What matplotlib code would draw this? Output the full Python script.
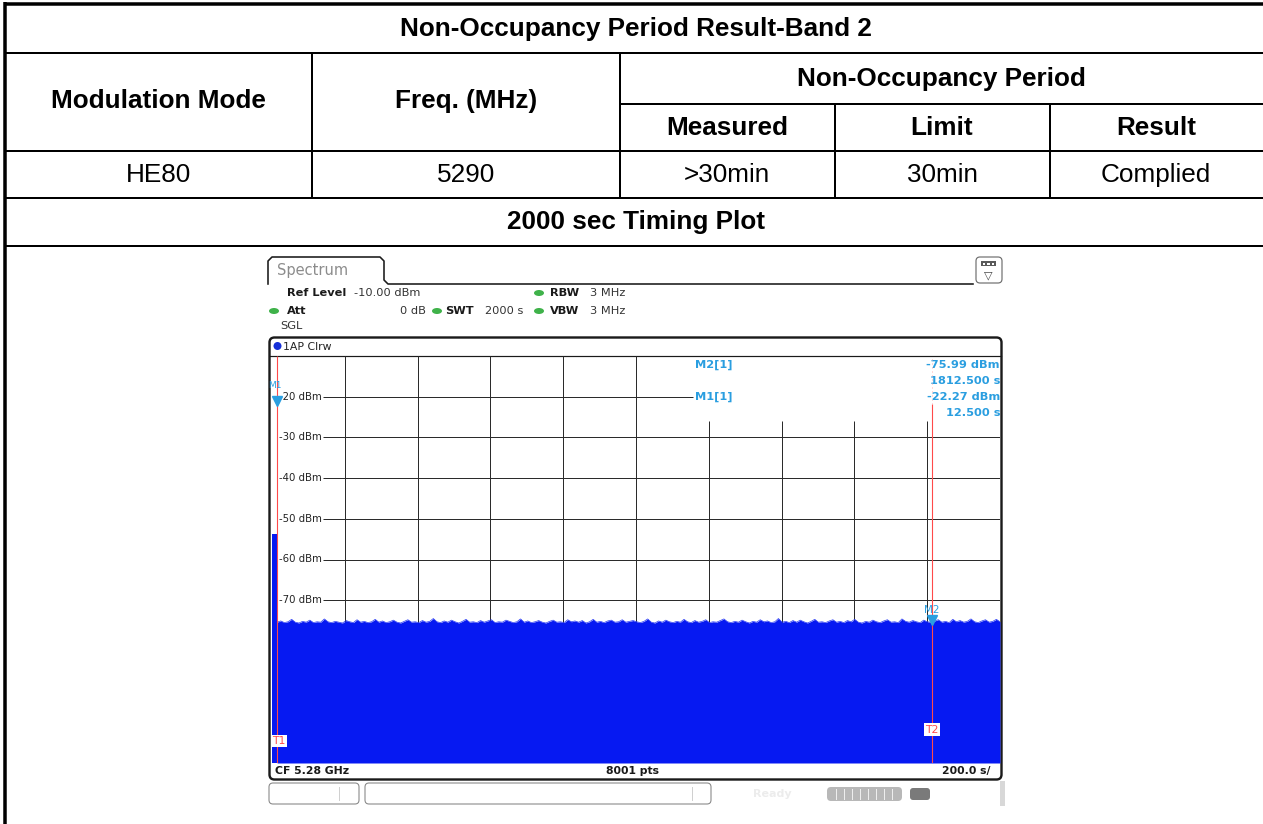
import numpy as np
import matplotlib
matplotlib.use('Agg')
import matplotlib.pyplot as plt
from matplotlib.patches import Rectangle, FancyBboxPatch, Ellipse, Circle
import matplotlib.transforms as mtransforms

# ---- table text
title = 'Non-Occupancy Period Result-Band 2'
hdr_mode = 'Modulation Mode'
hdr_freq = 'Freq. (MHz)'
hdr_nop = 'Non-Occupancy Period'
sub_hdrs = ['Measured', 'Limit', 'Result']
row_vals = ['HE80', '5290', '>30min', '30min', 'Complied']
plot_title = '2000 sec Timing Plot'

# ---- analyzer readout
sweep_time = 2000            # s
ref_level = -10              # dBm
bottom_level = -110          # dBm
y_ticks = [-20, -30, -40, -50, -60, -70]
m1_time, m1_level = 12.5, -22.27
m2_time, m2_level = 1812.5, -75.99
burst_end = 14               # s, first bins with the radar burst
burst_level = -53.7          # dBm
# top edge of the noise floor read across the sweep (dBm)
noise_top = [
    -75.4, -75.1, -75.5, -75.3, -74.7, -75.4, -75.6, -75.2, -75.4, -74.9,
    -75.5, -75.3, -75.4, -74.6, -75.3, -75.5, -75.2, -75.4, -75.6, -75.0,
    -75.3, -75.5, -74.8, -75.4, -75.2, -75.5, -75.3, -74.7, -75.4, -75.1,
    -75.5, -75.3, -74.9, -75.4, -75.6, -75.2, -74.8, -75.4, -75.3, -75.5,
    -75.0, -75.4, -75.2, -74.5, -75.3, -75.5, -75.1, -75.4, -74.9, -75.3,
    -75.6, -75.2, -74.7, -75.4, -75.3, -75.5, -75.0, -75.4, -75.1, -74.8,
    -75.5, -75.3, -75.4, -74.9, -75.2, -75.5, -75.3, -74.6, -75.4, -75.1,
    -75.5, -75.3, -75.0, -75.4, -75.6, -75.2, -74.9, -75.4, -75.3, -75.5,
    -74.8, -75.3, -75.1, -75.4, -75.0, -75.6, -75.3, -74.7, -75.4, -75.2,
    -75.5, -75.1, -74.9, -75.4, -75.3, -74.8, -75.4, -75.2, -75.0, -75.3,
    -75.5, -75.2, -74.6, -75.4, -75.6, -75.1, -75.4, -74.9, -75.3, -75.5,
    -75.2, -75.4, -74.7, -75.3, -75.5, -75.0, -75.4, -75.2, -74.8, -75.5,
    -75.3, -75.4, -75.0, -74.6, -75.3, -75.5, -75.2, -75.4, -74.9, -75.3,
    -75.6, -75.2, -75.4, -74.8, -75.3, -75.1, -75.5, -75.3, -74.5, -75.4,
    -75.2, -75.5, -75.0, -75.4, -74.9, -75.3, -75.6, -75.2, -74.7, -75.4,
    -75.3, -75.5, -75.1, -74.8, -75.4, -75.2, -75.5, -75.0, -75.3, -74.7,
    -75.4, -75.6, -75.2, -75.4, -74.9, -75.3, -75.5, -75.1, -74.8, -75.4,
    -75.3, -75.5, -74.6, -75.2, -75.4, -75.0, -75.3, -75.5, -74.9, -75.3,
    -75.4, -75.1, -74.8, -75.4, -75.2, -75.5, -74.7, -75.3, -75.0, -75.4,
    -75.2, -74.6, -75.3, -75.5, -75.1, -74.8, -75.4, -75.2, -74.7, -75.3,
]

W, H = 1263, 824
PX = 0.72  # points per pixel at dpi 100

fig = plt.figure(figsize=(W / 100, H / 100), dpi=100)
bg = fig.add_axes([0, 0, 1, 1])
bg.set_xlim(0, W)
bg.set_ylim(H, 0)
bg.axis('off')

# ---------------- table ----------------
tf = 'Liberation Sans'
fs = 18.8
k = '#000000'
bg.plot([5, 5], [2, H], color=k, lw=3.5 * PX, solid_capstyle='butt')
bg.plot([4, W], [3.5, 3.5], color=k, lw=3.5 * PX, solid_capstyle='butt')
for y, x0 in [(52.5, 5), (104, 620), (151, 5), (198, 5), (245.5, 5)]:
    bg.plot([x0, W], [y, y], color=k, lw=2 * PX, solid_capstyle='butt')
for x, y0 in [(312, 52.5), (620, 52.5), (835, 104), (1050, 104)]:
    bg.plot([x, x], [y0, 198], color=k, lw=2 * PX, solid_capstyle='butt')

bg.text(636, 29, title, fontsize=fs, fontweight='bold', family=tf, ha='center', va='center')
bg.text(158, 101, hdr_mode, fontsize=fs, fontweight='bold', family=tf, ha='center', va='center')
bg.text(466, 101, hdr_freq, fontsize=fs, fontweight='bold', family=tf, ha='center', va='center')
bg.text(941, 79, hdr_nop, fontsize=fs, fontweight='bold', family=tf, ha='center', va='center')
for cx, s in zip([727, 942, 1156], sub_hdrs):
    bg.text(cx, 128, s, fontsize=fs, fontweight='bold', family=tf, ha='center', va='center')
for cx, s in zip([158, 466, 727, 942, 1156], row_vals):
    bg.text(cx, 175, s, fontsize=fs, family=tf, ha='center', va='center')
bg.text(636, 222, plot_title, fontsize=fs, fontweight='bold', family=tf, ha='center', va='center')

# ---------------- analyzer screenshot chrome ----------------
sf = 'DejaVu Sans'
dk = '#1a1a1a'
bg.plot([268, 268, 272, 380, 384, 384, 388, 973],
        [284, 261, 257, 257, 261, 280, 284, 284], color=dk, lw=1.6 * PX)
bg.text(277, 271, 'Spectrum', fontsize=10.5, family=sf, color='#8c8c8c', ha='left', va='center')

# little icon at top right
bg.add_patch(FancyBboxPatch((976, 257), 26, 26, boxstyle='round,pad=0,rounding_size=4',
                            ec='#707070', fc='white', lw=1.2 * PX))
bg.add_patch(Rectangle((981, 261), 15, 5, fc='#5a5a5a', ec='none'))
for xd in [984, 988.5, 993]:
    bg.add_patch(Rectangle((xd - 1.2, 262.5), 2.4, 2, fc='white', ec='none'))
bg.text(988.5, 275, '\u25BD', fontsize=8, family=sf, color='#444444', ha='center', va='center')

green = '#3fb24a'
def gdot(x, y):
    bg.add_patch(Ellipse((x, y), 10, 6, fc=green, ec='none'))

r1, r2, r3 = 293, 311, 326
hf = 8.2
bg.text(287, r1, 'Ref Level', fontsize=hf, fontweight='bold', family=sf, ha='left', va='center', color=dk)
bg.text(354, r1, '-10.00 dBm', fontsize=hf, family=sf, ha='left', va='center', color='#333333')
gdot(539, r1)
bg.text(550, r1, 'RBW', fontsize=hf, fontweight='bold', family=sf, ha='left', va='center', color=dk)
bg.text(590, r1, '3 MHz', fontsize=hf, family=sf, ha='left', va='center', color='#333333')
gdot(274, r2)
bg.text(287, r2, 'Att', fontsize=hf, fontweight='bold', family=sf, ha='left', va='center', color=dk)
bg.text(426, r2, '0 dB', fontsize=hf, family=sf, ha='right', va='center', color='#333333')
gdot(437, r2)
bg.text(445, r2, 'SWT', fontsize=hf, fontweight='bold', family=sf, ha='left', va='center', color=dk)
bg.text(485, r2, '2000 s', fontsize=hf, family=sf, ha='left', va='center', color='#333333')
gdot(539, r2)
bg.text(550, r2, 'VBW', fontsize=hf, fontweight='bold', family=sf, ha='left', va='center', color=dk)
bg.text(590, r2, '3 MHz', fontsize=hf, family=sf, ha='left', va='center', color='#333333')
bg.text(280, r3, 'SGL', fontsize=hf, family=sf, ha='left', va='center', color='#333333')

# diagram frame
bg.add_patch(FancyBboxPatch((269.5, 337.5), 732, 442, boxstyle='round,pad=0,rounding_size=5',
                            ec=dk, fc='white', lw=2.4 * PX, zorder=1))
bg.plot([270, 1001], [356, 356], color=dk, lw=1.2 * PX, zorder=2)
bg.add_patch(Circle((277.5, 346), 4, fc='#1630d8', ec='none', zorder=2))
bg.text(283, 346.5, '1AP Clrw', fontsize=7.8, family=sf, ha='left', va='center', color='#222222', zorder=2)

# bottom strip of the diagram
bg.text(275, 771, 'CF 5.28 GHz', fontsize=7.8, fontweight='bold', family=sf, ha='left', va='center', color=dk)
bg.text(633, 771, '8001 pts', fontsize=7.8, fontweight='bold', family=sf, ha='center', va='center', color=dk)
bg.text(991, 771, '200.0 s/', fontsize=7.8, fontweight='bold', family=sf, ha='right', va='center', color=dk)

# status bar
bg.add_patch(FancyBboxPatch((269, 783), 90, 21, boxstyle='round,pad=0,rounding_size=4',
                            ec='#8a8a8a', fc='white', lw=1.1 * PX))
bg.add_patch(FancyBboxPatch((365, 783), 346, 21, boxstyle='round,pad=0,rounding_size=4',
                            ec='#8a8a8a', fc='white', lw=1.1 * PX))
bg.plot([339, 339], [787, 800], color='#d0d0d0', lw=1 * PX)
bg.plot([692, 692], [787, 800], color='#d0d0d0', lw=1 * PX)
bg.text(772, 794, 'Ready', fontsize=8, fontweight='bold', family=sf, ha='center', va='center', color='#ececec')
bg.add_patch(FancyBboxPatch((827, 787), 75, 14, boxstyle='round,pad=0,rounding_size=4',
                            fc='#b8b8b8', ec='none'))
for xd in range(836, 900, 8):
    bg.plot([xd, xd], [789, 799], color='#eeeeee', lw=1 * PX)
bg.add_patch(FancyBboxPatch((910, 788), 20, 12, boxstyle='round,pad=0,rounding_size=3',
                            fc='#7a7a7a', ec='none'))
bg.add_patch(Rectangle((1000, 781), 5, 25, fc='#d8d8d8', ec='none'))

# marker table text
mk = '#2a9ee0'
mf = 8.2
bg.text(695, 365, 'M2[1]', fontsize=mf, fontweight='bold', family=sf, color=mk, ha='left', va='center')
bg.text(1000, 365, '-75.99 dBm', fontsize=mf, fontweight='bold', family=sf, color=mk, ha='right', va='center')
bg.text(1000, 381, '1812.500 s', fontsize=mf, fontweight='bold', family=sf, color=mk, ha='right', va='center')
bg.text(695, 397, 'M1[1]', fontsize=mf, fontweight='bold', family=sf, color=mk, ha='left', va='center')
bg.text(1000, 397, '-22.27 dBm', fontsize=mf, fontweight='bold', family=sf, color=mk, ha='right', va='center')
bg.text(1000, 413, '12.500 s', fontsize=mf, fontweight='bold', family=sf, color=mk, ha='right', va='center')

# ---------------- trace diagram ----------------
ax = fig.add_axes([272 / W, 1 - 763 / H, 728 / W, 407 / H])
ax.set_xlim(0, sweep_time)
ax.set_ylim(bottom_level, ref_level)
ax.axis('off')

grid_c = '#2b2b2b'
box_left = 1157   # marker readout covers the upper right corner
box_bottom = -26
label_end = 140
for t in range(200, sweep_time, 200):
    top = ref_level if t < box_left else box_bottom
    ax.vlines(t, bottom_level, top, color=grid_c, lw=1 * PX, zorder=1)
for lv in range(-20, bottom_level, -10):
    right = box_left if lv == -20 else sweep_time
    ax.hlines(lv, label_end, right, color=grid_c, lw=1 * PX, zorder=1)

blue = '#0619f2'
tn = np.linspace(burst_end, sweep_time, len(noise_top))
ax.fill_between(tn, bottom_level, noise_top, color=blue, lw=0, zorder=2)
ax.plot(tn, noise_top, color='#2a3cf5', lw=0.5, zorder=2)
ax.fill_between([0, burst_end], bottom_level, burst_level, color=blue, lw=0, zorder=2)

for lv in y_ticks:
    ax.text(19, lv, f'{lv} dBm', fontsize=7.3, family=sf, color='#222222',
            ha='left', va='center', zorder=3)

red = '#ff4a4a'
ax.vlines(m1_time, bottom_level, ref_level, color=red, lw=1.1 * PX, zorder=4)
ax.vlines(m2_time, bottom_level, -21.8, color=red, lw=1.1 * PX, zorder=4)
ax.vlines(m2_time, -21.8, ref_level, color='#ffb0b0', lw=1 * PX, linestyles=(0, (1, 3)), zorder=4)
ax.text(1, -104.6, 'T1', fontsize=7.8, family=sf, color=red, ha='left', va='center', zorder=5,
        bbox=dict(fc='white', ec='none', pad=1))
ax.text(m2_time, -101.8, 'T2', fontsize=7.8, family=sf, color=red, ha='center', va='center', zorder=5,
        bbox=dict(fc='white', ec='none', pad=1))

tri = mtransforms.offset_copy(ax.transData, fig=fig, x=0, y=3.5, units='points')
for t, lv in [(m1_time, m1_level), (m2_time, m2_level)]:
    ax.plot(t, lv, marker='v', ms=6.5, color=mk, mec=mk, transform=tri, zorder=6)
ax.annotate('M1', (m1_time, m1_level), xytext=(-2, 20), textcoords='offset pixels',
            fontsize=6.5, family=sf, color=mk, ha='center', va='center', zorder=6)
ax.annotate('M2', (m2_time, m2_level), xytext=(0, 15), textcoords='offset pixels',
            fontsize=7.5, family=sf, color=mk, ha='center', va='center', zorder=6)

plt.savefig('out.png', dpi=100)
